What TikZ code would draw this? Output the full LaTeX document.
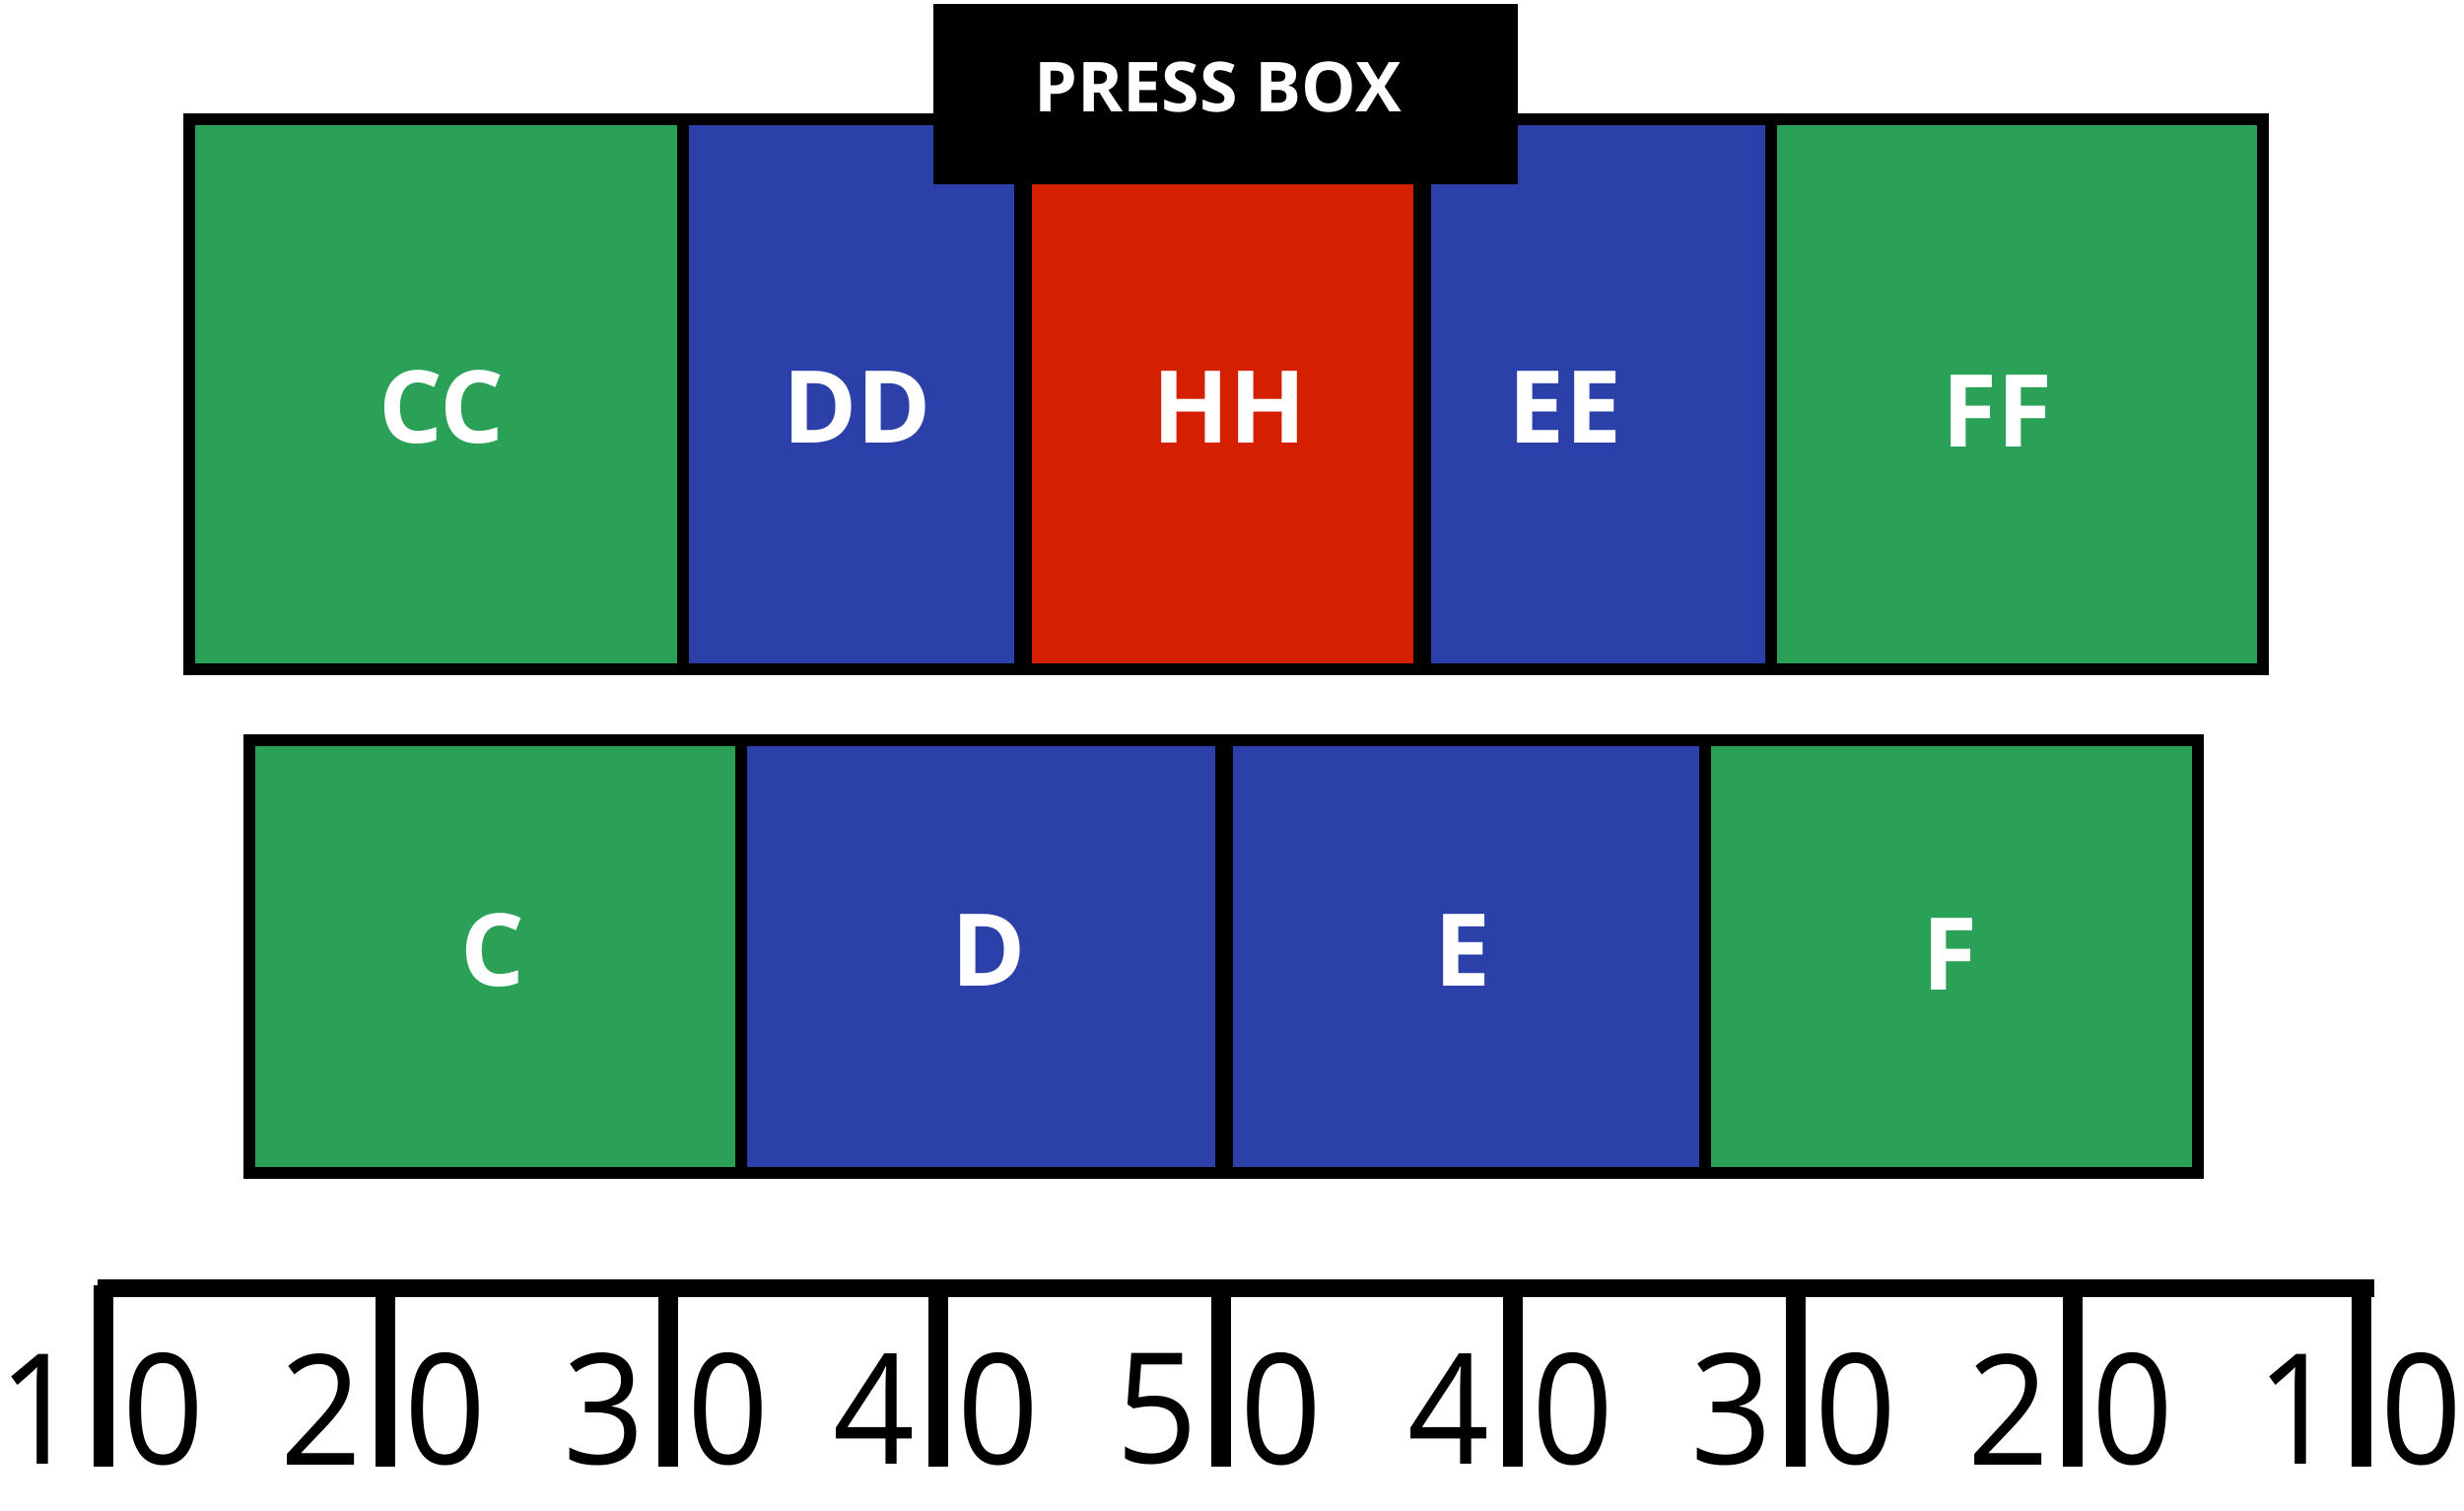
\documentclass[tikz,border=0pt]{standalone}
\usepackage{fontspec}
\setmainfont{Open Sans}
\newfontfamily\yardfont[FakeStretch=0.93]{Open Sans}
\usepackage{tikz}
\usetikzlibrary{calc}

\definecolor{seatgreen}{HTML}{2BA057}
\definecolor{seatblue}{HTML}{2B40A9}
\definecolor{seatred}{HTML}{D41F00}

\begin{document}
\begin{tikzpicture}[x=0.25pt, y=-0.25pt,
  section/.style={draw=black, line width=3.2pt},
  heavy/.style={line width=4.7pt},
  seat/.style={text=white, inner sep=0pt, font=\fontsize{25.5}{30}\selectfont\bfseries},
  pressbox/.style={fill=black, inner sep=0pt, minimum width=148.25pt, minimum height=45.75pt},
  presslabel/.style={text=white, inner sep=0pt, font=\fontsize{17.5}{21}\selectfont\bfseries},
  yard/.style={inner sep=0pt, font=\fontsize{39}{44}\selectfont\yardfont},
  rulebar/.style={line width=4.5pt},
  tick/.style={line width=4.9pt}]
\useasboundingbox (0,0) rectangle (2500,1533);

% Upper sections
\draw[section, fill=seatgreen] (192,121) rectangle (693,679);
\draw[section, fill=seatblue] (693,121) rectangle (1038,679);
\draw[section, fill=seatred] (1038,121) rectangle (1443,679);
\draw[section, fill=seatblue] (1443,121) rectangle (1797,679);
\draw[section, fill=seatgreen] (1797,121) rectangle (2296,679);
\draw[heavy] (1038,121) -- (1038,679);
\draw[heavy] (1443,121) -- (1443,679);

% Press box on top
\node[pressbox] (press) at (1243.5,95.5) {};
\node[presslabel] (presstext) at ($(press.center)+(-8,-7)$) {PRESS BOX};

% Upper labels
\node[seat] (cc) at (448,413) {CC};
\node[seat] (dd) at (870,413) {DD};
\node[seat] (hh) at (1248,413) {HH};
\node[seat] (ee) at (1588,413) {EE};
\node[seat] (ff) at (2026,417) {FF};

% Lower sections
\draw[section, fill=seatgreen] (253,751) rectangle (752,1190);
\draw[section, fill=seatblue] (752,751) rectangle (1242,1190);
\draw[section, fill=seatblue] (1242,751) rectangle (1730,1190);
\draw[section, fill=seatgreen] (1730,751) rectangle (2230,1190);
\draw[heavy] (1242,751) -- (1242,1190);

% Lower labels
\node[seat] (c) at (500,964) {C};
\node[seat] (d) at (1003,964) {D};
\node[seat] (e) at (1484,964) {E};
\node[seat] (f) at (1978,968) {F};

% Yard ruler
\draw[rulebar] (99,1307) -- (2409,1307);
\foreach \x/\d [count=\i] in {105/1,391/2,678/3,952/4,1239/5,1535/4,1822/3,2103/2,2396/1} {
  \coordinate (t\i) at (\x,1304);
  \draw[tick] (t\i) -- ++(0,184);
  \node[yard] (yl\i) at (\x-65,1430) {\d};
  \node[yard] (yr\i) at (\x+61,1430) {0};
}
\end{tikzpicture}
\end{document}
